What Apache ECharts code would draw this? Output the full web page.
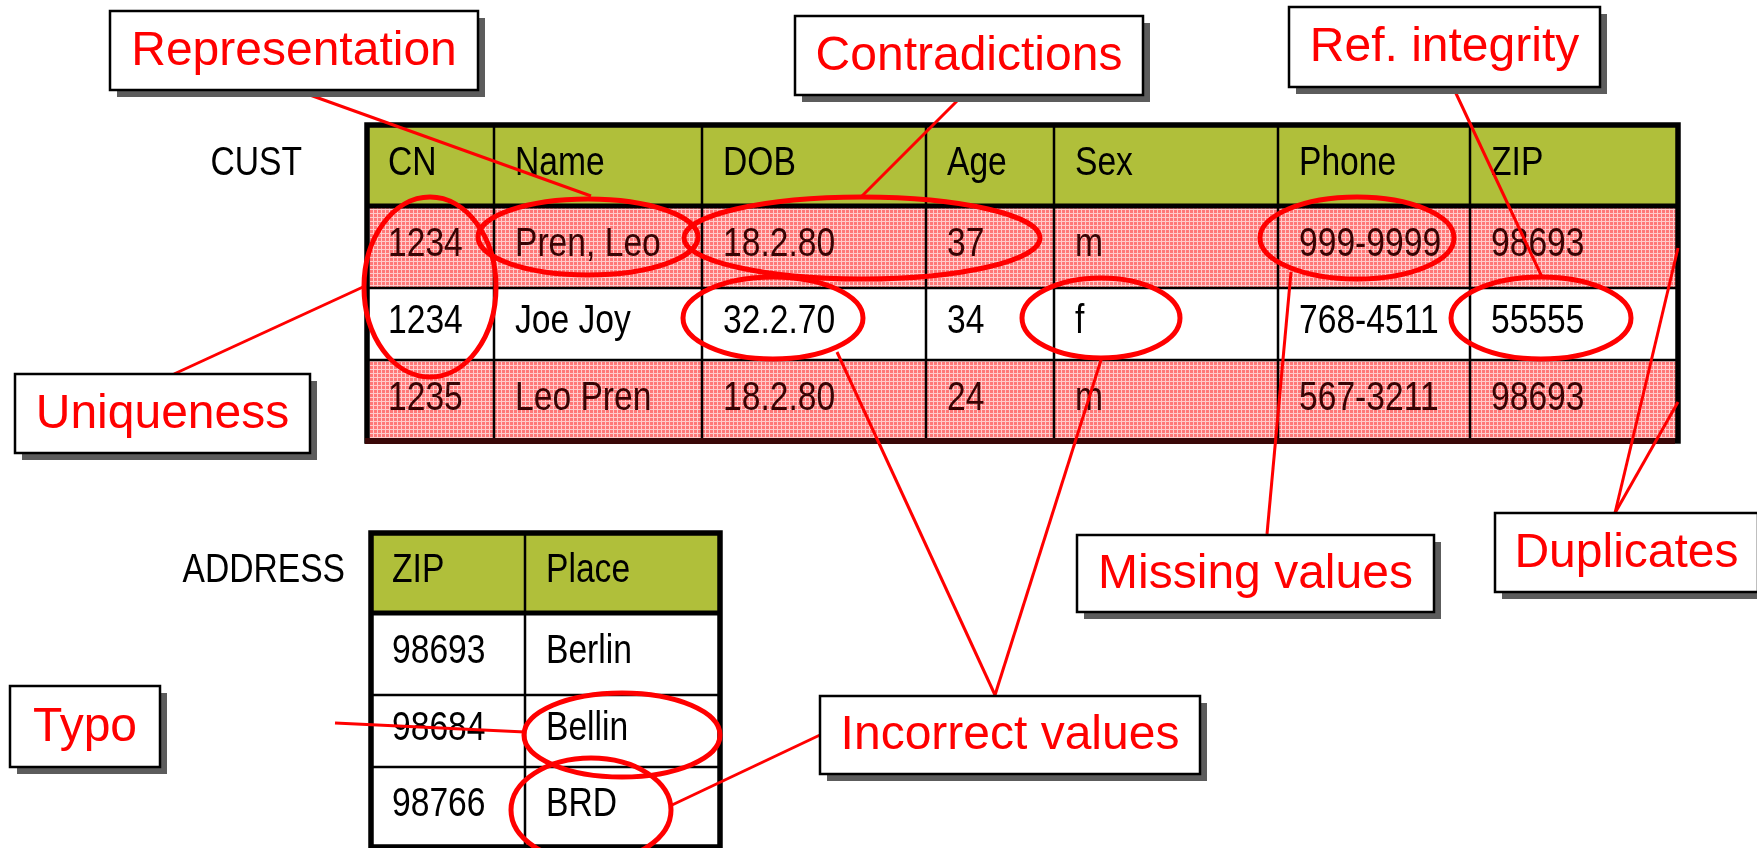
<!DOCTYPE html>
<html>
<head>
<meta charset="utf-8">
<title>Data quality problems</title>
<script src="https://cdn.jsdelivr.net/npm/echarts@6/dist/echarts.min.js"></script>
<style>
  html, body { margin: 0; padding: 0; background: #fff; }
  #chart { width: 1757px; height: 848px; }
</style>
</head>
<body>
<div id="chart"></div>
<script>
// ---- table content ----
var custName = 'CUST';
var custHeader = ['CN', 'Name', 'DOB', 'Age', 'Sex', 'Phone', 'ZIP'];
var custRows = [
    ['1234', 'Pren, Leo', '18.2.80', '37', 'm', '999-9999', '98693'],
    ['1234', 'Joe Joy', '32.2.70', '34', 'f', '768-4511', '55555'],
    ['1235', 'Leo Pren', '18.2.80', '24', 'm', '567-3211', '98693']
];
var custFlagged = [true, false, true];   // hatched rows (duplicates)

var addrName = 'ADDRESS';
var addrHeader = ['ZIP', 'Place'];
var addrRows = [
    ['98693', 'Berlin'],
    ['98684', 'Bellin'],
    ['98766', 'BRD']
];

var problemLabels = ['Representation', 'Contradictions', 'Ref. integrity', 'Uniqueness',
    'Missing values', 'Duplicates', 'Incorrect values', 'Typo'];

// ---- layout (pixel space of the hidden axes) ----
var custCols = [367, 494, 702, 926, 1054, 1278, 1470, 1678];
var custLines = [125, 206, 288, 360, 441];
var addrCols = [371, 525, 720];
var addrLines = [533, 613, 695, 767, 847];

// label boxes: x0, y0, x1, y1 (same order as problemLabels)
var labelBoxes = [
    [110, 11, 478, 90],
    [795, 16, 1143, 95],
    [1289, 7, 1600, 87],
    [15, 374, 310, 453],
    [1077, 535, 1434, 612],
    [1495, 513, 1758, 592],
    [820, 696, 1200, 774],
    [10, 686, 160, 767]
];
// ellipses round the faulty cells: cx, cy, rx, ry
var ellipses = [
    [430, 287, 66, 90],
    [588, 237, 110, 38],
    [862, 238, 178, 41],
    [773, 318, 90, 41],
    [1101, 318, 79, 40],
    [1357, 238, 97, 41],
    [1541, 318, 90, 41],
    [622, 735, 98, 42],
    [591, 810, 80, 52]
];
// connector lines: x1, y1, x2, y2
var connectors = [
    [296, 90, 591, 196],
    [963, 95, 861, 197],
    [1453, 87, 1542, 277],
    [174, 374, 363, 287],
    [1267, 534, 1291, 272],
    [1615, 513, 1678, 248],
    [1615, 513, 1678, 402],
    [995, 695, 837, 352],
    [995, 695, 1102, 357],
    [820, 735, 672, 805],
    [335, 723, 525, 732]
];

// narrow look: Liberation Sans squeezed horizontally
var tableFont = '41px "Liberation Sans", Arial, sans-serif';
var narrow = 0.82;
var labelFont = '48px "Liberation Sans", Arial, sans-serif';
var headerColor = '#b0bf3a';
var red = '#ff0000';

function makeHatch() {
    var c = document.createElement('canvas');
    c.width = 4;
    c.height = 4;
    var g = c.getContext('2d');
    g.fillStyle = '#ff7878';
    g.fillRect(0, 0, 4, 4);
    g.fillStyle = '#ffcccc';
    g.fillRect(0, 1, 4, 1);
    g.fillRect(1, 0, 1, 4);
    return c;
}
var hatch = makeHatch();

// build cell lists: [col, row] plus texts
function buildCells(header, rows) {
    var cells = [], texts = [];
    header.forEach(function (h, c) { cells.push([c, 0]); texts.push(h); });
    rows.forEach(function (row, r) {
        row.forEach(function (v, c) { cells.push([c, r + 1]); texts.push(v); });
    });
    return { cells: cells, texts: texts };
}
var custCells = buildCells(custHeader, custRows);
var addrCells = buildCells(addrHeader, addrRows);

function narrowText(text, x, y, color, align) {
    return {
        type: 'text',
        x: x, y: y, scaleX: narrow,
        style: {
            text: text, x: 0, y: 0,
            font: tableFont, fill: color,
            align: align, verticalAlign: 'middle',
            textAlign: align, textVerticalAlign: 'middle'
        }
    };
}

function cellRenderer(cols, lines, texts, flagged) {
    return function (params, api) {
        var c = api.value(0), r = api.value(1);
        var tl = api.coord([cols[c], lines[r]]);
        var br = api.coord([cols[c + 1], lines[r + 1]]);
        var hatched = r > 0 && flagged && flagged[r - 1];
        var fill = r === 0 ? headerColor : (hatched ? { image: hatch, repeat: 'repeat' } : '#fff');
        return {
            type: 'group',
            children: [{
                type: 'rect',
                shape: { x: tl[0], y: tl[1], width: br[0] - tl[0], height: br[1] - tl[1] },
                style: { fill: fill }
            },
            narrowText(texts[params.dataIndex], tl[0] + 21, (tl[1] + br[1]) / 2 - 2,
                hatched ? '#380404' : '#000', 'left')]
        };
    };
}

function gridRenderer(cols, lines, bottomColor) {
    return function (params, api) {
        var kids = [];
        var x0 = api.coord([cols[0], 0])[0], x1 = api.coord([cols[cols.length - 1], 0])[0];
        var y0 = api.coord([0, lines[0]])[1], y1 = api.coord([0, lines[lines.length - 1]])[1];
        for (var i = 1; i < cols.length - 1; i++) {
            var x = api.coord([cols[i], 0])[0];
            kids.push({ type: 'line', shape: { x1: x, y1: y0, x2: x, y2: y1 },
                style: { stroke: '#000', lineWidth: 2.5 } });
        }
        for (var j = 1; j < lines.length - 1; j++) {
            var y = api.coord([0, lines[j]])[1];
            kids.push({ type: 'line', shape: { x1: x0, y1: y, x2: x1, y2: y },
                style: { stroke: '#000', lineWidth: j === 1 ? 5 : 2.5 } });
        }
        kids.push({ type: 'rect', shape: { x: x0, y: y0, width: x1 - x0, height: y1 - y0 },
            style: { fill: null, stroke: '#000', lineWidth: 5.5 } });
        if (bottomColor) {
            kids.push({ type: 'line', shape: { x1: x0 - 2, y1: y1, x2: x1 - 3, y2: y1 },
                style: { stroke: bottomColor, lineWidth: 6 } });
        }
        return { type: 'group', children: kids };
    };
}

var tableTitles = [
    { text: custName, x: 302, y: 164 },
    { text: addrName, x: 345, y: 571 }
];

var chart = echarts.init(document.getElementById('chart'));
var option = {
    animation: false,
    backgroundColor: '#fff',
    grid: { left: 0, right: 0, top: 0, bottom: 0 },
    xAxis: { type: 'value', min: 0, max: 1757, show: false },
    yAxis: { type: 'value', min: 0, max: 848, inverse: true, show: false },
    series: [
        {
            type: 'custom', z: 1, silent: true,
            data: custCells.cells,
            renderItem: cellRenderer(custCols, custLines, custCells.texts, custFlagged)
        },
        {
            type: 'custom', z: 1, silent: true,
            data: addrCells.cells,
            renderItem: cellRenderer(addrCols, addrLines, addrCells.texts, null)
        },
        {
            type: 'custom', z: 2, silent: true,
            data: [[0, 0]],
            renderItem: gridRenderer(custCols, custLines, '#3a0808')
        },
        {
            type: 'custom', z: 2, silent: true,
            data: [[0, 0]],
            renderItem: gridRenderer(addrCols, addrLines, null)
        },
        {
            type: 'custom', z: 2, silent: true,
            data: tableTitles.map(function (t) { return [t.x, t.y]; }),
            renderItem: function (params, api) {
                var p = api.coord([api.value(0), api.value(1)]);
                return narrowText(tableTitles[params.dataIndex].text, p[0], p[1], '#000', 'right');
            }
        },
        {
            type: 'custom', z: 3, silent: true,
            data: connectors,
            renderItem: function (params, api) {
                var a = api.coord([api.value(0), api.value(1)]);
                var b = api.coord([api.value(2), api.value(3)]);
                return {
                    type: 'line',
                    shape: { x1: a[0], y1: a[1], x2: b[0], y2: b[1] },
                    style: { stroke: red, lineWidth: 3 }
                };
            }
        },
        {
            type: 'custom', z: 4, silent: true,
            data: ellipses,
            renderItem: function (params, api) {
                var c = api.coord([api.value(0), api.value(1)]);
                var s = api.size([api.value(2), api.value(3)]);
                return {
                    type: 'ellipse',
                    shape: { cx: c[0], cy: c[1], rx: s[0], ry: s[1] },
                    style: { fill: null, stroke: red, lineWidth: 5 }
                };
            }
        },
        {
            type: 'custom', z: 5, silent: true,
            data: labelBoxes,
            renderItem: function (params, api) {
                var a = api.coord([api.value(0), api.value(1)]);
                var b = api.coord([api.value(2), api.value(3)]);
                var w = b[0] - a[0], h = b[1] - a[1];
                return {
                    type: 'group',
                    children: [{
                        type: 'rect',
                        shape: { x: a[0] + 7, y: a[1] + 7, width: w, height: h },
                        style: { fill: '#5c5c5c' }
                    }, {
                        type: 'rect',
                        shape: { x: a[0], y: a[1], width: w, height: h },
                        style: { fill: '#fff', stroke: '#000', lineWidth: 2.5 }
                    }, {
                        type: 'text',
                        style: {
                            text: problemLabels[params.dataIndex],
                            x: a[0] + w / 2, y: a[1] + h / 2 + 1,
                            font: labelFont, fill: red,
                            align: 'center', verticalAlign: 'middle',
                            textAlign: 'center', textVerticalAlign: 'middle'
                        }
                    }]
                };
            }
        }
    ]
};
chart.setOption(option);
window.onresize = chart.resize;
</script>
</body>
</html>
